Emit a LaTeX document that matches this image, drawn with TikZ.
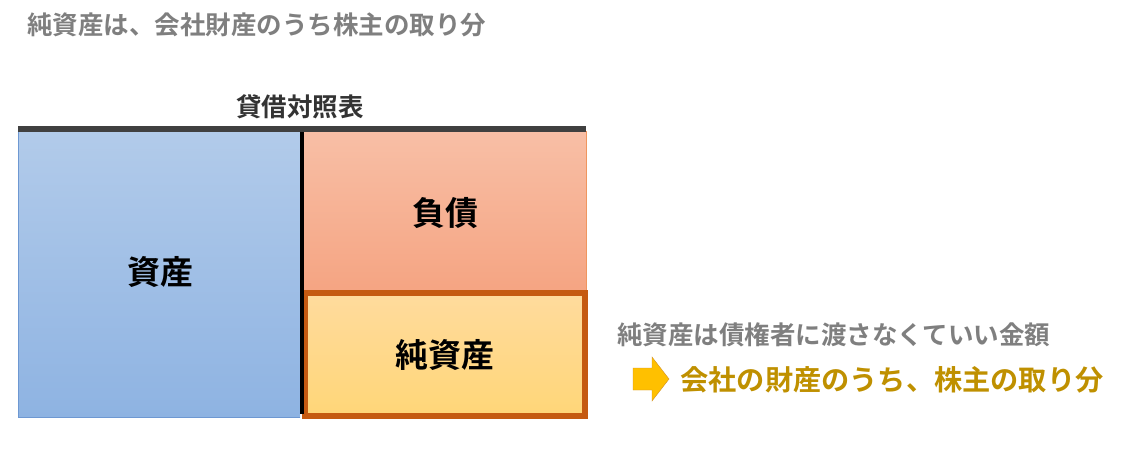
\documentclass[tikz,border=0pt]{standalone}
\usepackage{fontspec}
\setmainfont{Noto Sans CJK JP}[BoldFont={Noto Sans CJK JP Bold}]
\usepackage{tikz}

\definecolor{textgray}{HTML}{7F7F7F}
\definecolor{gold}{HTML}{BF9000}
\definecolor{assettop}{HTML}{B2CBEA}
\definecolor{assetbot}{HTML}{8EB3E2}
\definecolor{assetline}{HTML}{6E98D2}
\definecolor{liabtop}{HTML}{F8BFA6}
\definecolor{liabbot}{HTML}{F5A482}
\definecolor{liabline}{HTML}{F0965F}
\definecolor{eqtop}{HTML}{FFDB9D}
\definecolor{eqbot}{HTML}{FFD678}
\definecolor{eqline}{HTML}{C55A11}
\definecolor{arrowfill}{HTML}{FFC000}
\definecolor{arrowline}{HTML}{D0902A}

\tikzset{
  label/.style={font=\bfseries\fontsize{33}{38}\selectfont, inner sep=0pt},
  note/.style={font=\bfseries\fontsize{25.5}{30}\selectfont, inner sep=0pt, anchor=west}
}

\begin{document}
\begin{tikzpicture}[x=1pt,y=-1pt,style=thick]
    \useasboundingbox (0,0) rectangle (1122,456);
    \node[note, text=textgray] (title) at (27,25) {純資産は、会社財産のうち株主の取り分};
    \node[note, anchor=center, text=black!80] (bs) at (300,107) {貸借対照表};
    % left and right sides
    \shade[top color=assettop, bottom color=assetbot] (18,131) rectangle (300,417);
    \draw[assetline, thin] (18,131) -- (18,417) -- (300,417);
    \shade[top color=liabtop, bottom color=liabbot] (304,131) rectangle (586,292);
    \draw[liabline, thin] (586,131) -- (586,292);
    \shade[top color=eqtop, bottom color=eqbot] (305,293) rectangle (585,416);
    \draw[eqline, line width=5.5pt] (305,293) rectangle (585,416);
    \draw[black!75, line width=6pt] (18,129) -- (586,129);
    \draw[black, line width=4pt] (302,132) -- (302,414);
    \node[label] (asset) at (160,272) {資産};
    \node[label] (liab) at (445,213) {負債};
    \node[label] (equity) at (445,355) {純資産};
    % note on the right
    \node[note, text=textgray] (why) at (617,335) {純資産は債権者に渡さなくていい金額};
    \draw[arrowline, thin, fill=arrowfill] (633,368) -- (652,368) -- (652,357) --
    (669,379) -- (652,401) -- (652,390) -- (633,390) -- cycle;
    \node[note, text=gold, font=\bfseries\fontsize{28.2}{33}\selectfont] (share) at (680,380) {会社の財産のうち、株主の取り分};
  \end{tikzpicture}
\end{document}
